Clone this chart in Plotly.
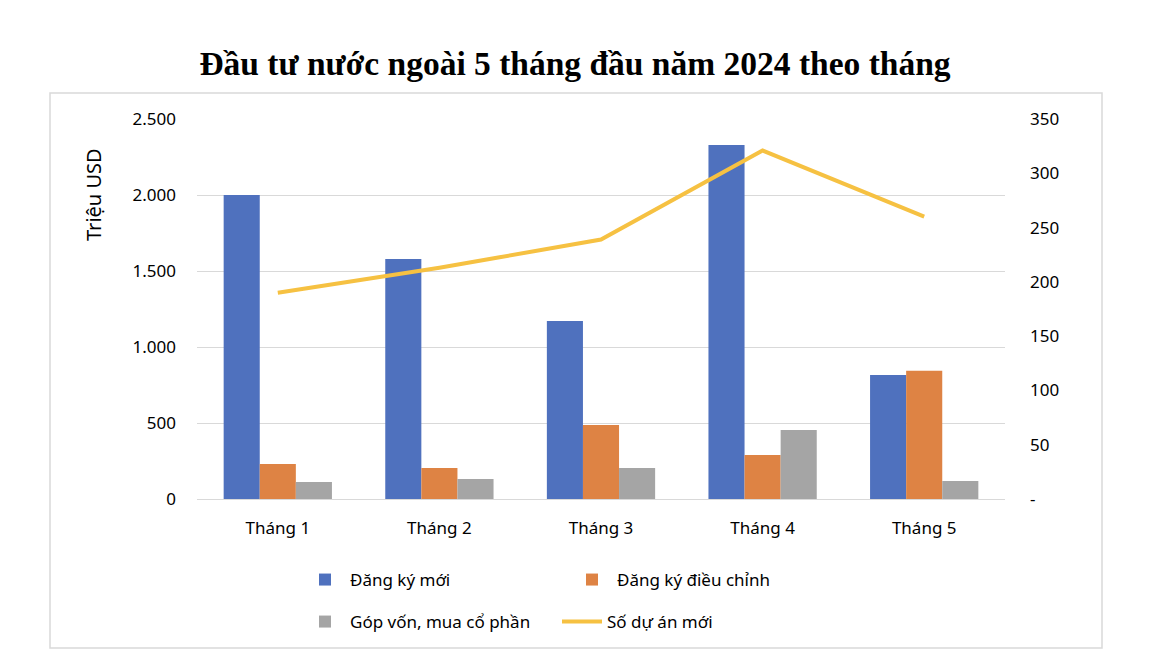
import plotly.graph_objects as go

months = ["Tháng 1", "Tháng 2", "Tháng 3", "Tháng 4", "Tháng 5"]
dang_ky_moi = [2000, 1579, 1171, 2329, 816]
dang_ky_dieu_chinh = [230, 204, 487, 289, 844]
gop_von = [112, 132, 204, 454, 118]
so_du_an_moi = [190, 213, 239, 321, 260]

left_ticks = [0, 500, 1000, 1500, 2000, 2500]
left_ticktext = ["0", "500", "1.000", "1.500", "2.000", "2.500"]
right_ticks = [0, 50, 100, 150, 200, 250, 300, 350]
right_ticktext = ["-", "50", "100", "150", "200", "250", "300", "350"]

FONT = "Noto Sans"
OFF = 8  # page body margin
W, H = 1162 - OFF, 664 - OFF
# target page-pixel positions of the plot area
PX0, PX1, PY0, PY1 = 197, 1005, 119, 499
L, T = PX0 - OFF, PY0 - OFF
R, B = W - (PX1 - OFF), H - (PY1 - OFF)
PW, PH = PX1 - PX0, PY1 - PY0

def px(x):
    return (x - PX0) / PW

def py(y):
    return (PY1 - y) / PH

fig = go.Figure()
fig.add_trace(go.Bar(x=months, y=dang_ky_moi, name="Đăng ký mới",
                     marker=dict(color="#4f71be", line=dict(width=0)), legend="legend"))
fig.add_trace(go.Bar(x=months, y=dang_ky_dieu_chinh, name="Đăng ký điều chỉnh",
                     marker=dict(color="#de8344", line=dict(width=0)), legend="legend"))
fig.add_trace(go.Bar(x=months, y=gop_von, name="Góp vốn, mua cổ phần",
                     marker=dict(color="#a5a5a5", line=dict(width=0)), legend="legend2"))
fig.add_trace(go.Scatter(x=months, y=so_du_an_moi, name="Số dự án mới", mode="lines",
                         line=dict(color="#f6c142", width=4), yaxis="y2", legend="legend2"))

fig.update_layout(
    width=W, height=H,
    margin=dict(l=L, r=R, t=T, b=B),
    paper_bgcolor="white", plot_bgcolor="white",
    font=dict(family=FONT, size=17, color="#000000"),
    barmode="group", bargap=0.33, bargroupgap=0,
    title=dict(text="<b>Đầu tư nước ngoài 5 tháng đầu năm 2024 theo tháng</b>",
               font=dict(family="Liberation Serif", size=33.5, color="#000000"),
               x=(575 - OFF) / W, xanchor="center", xref="container",
               y=1 - (63 - OFF) / H, yanchor="middle", yref="container"),
    xaxis=dict(showgrid=False, showline=True, linecolor="#d9d9d9", linewidth=1,
               ticks="", tickfont=dict(size=17), ticklabelstandoff=14),
    yaxis=dict(range=[0, 2500], tickvals=left_ticks, ticktext=left_ticktext,
               showgrid=True, gridcolor="#d9d9d9", gridwidth=1,
               zeroline=True, zerolinecolor="#d9d9d9", zerolinewidth=1,
               showline=False, ticks="", ticklabelstandoff=20,
               tickfont=dict(size=17)),
    yaxis2=dict(range=[0, 350], tickvals=right_ticks, ticktext=right_ticktext,
                overlaying="y", side="right", showgrid=False, zeroline=False,
                showline=False, ticks="", ticklabelstandoff=24,
                tickfont=dict(size=17)),
    legend=dict(orientation="h", x=px(300), xanchor="left", y=py(580), yanchor="middle",
                entrywidth=212, entrywidthmode="pixels", bgcolor="rgba(0,0,0,0)",
                font=dict(size=17), itemwidth=40, traceorder="normal"),
    legend2=dict(orientation="h", x=px(300), xanchor="left", y=py(622), yanchor="middle",
                 entrywidth=202, entrywidthmode="pixels", bgcolor="rgba(0,0,0,0)",
                 font=dict(size=17), itemwidth=40, traceorder="normal"),
    shapes=[dict(type="rect", xref="paper", yref="paper",
                 x0=px(50), x1=px(1102), y0=py(648), y1=py(93),
                 line=dict(color="#d9d9d9", width=1.5), fillcolor="rgba(0,0,0,0)", layer="below")],
    annotations=[dict(text="Triệu USD", xref="paper", yref="paper",
                      x=px(93), y=py(195), textangle=-90, showarrow=False,
                      xanchor="center", yanchor="middle", font=dict(size=20))],
)

fig.write_html("out.html")
